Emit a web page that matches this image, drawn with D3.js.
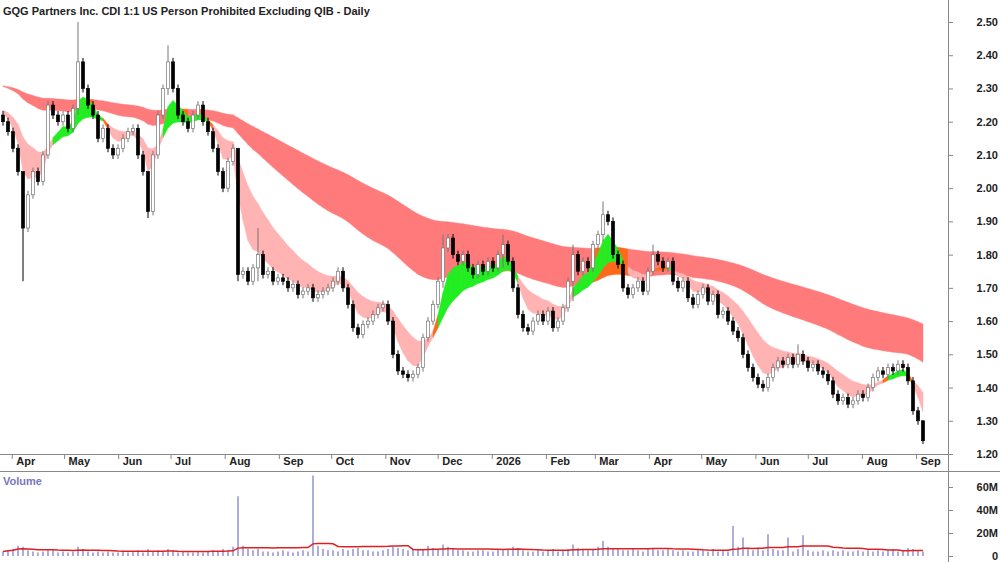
<!DOCTYPE html>
<html><head><meta charset="utf-8">
<script src="https://cdn.jsdelivr.net/npm/d3@7"></script>
<style>body{margin:0;background:#fff}svg{font-family:Arial,"Liberation Sans",sans-serif}</style>
</head><body>
<script>
// closes, roughly every 2nd trading day from late Mar 2025 to end Aug 2026
let closes = [2.20,2.17,2.12,2.05,1.88,1.98,2.05,2.02,2.10,2.25,2.22,2.20,2.22,2.18,2.24,2.38,2.30,2.25,2.22,2.15,
2.18,2.12,2.10,2.12,2.15,2.17,2.18,2.10,2.05,1.93,2.10,2.22,2.30,2.38,2.30,2.22,2.20,2.18,2.22,2.25,
2.20,2.17,2.12,2.05,2.00,2.08,2.12,1.74,1.75,1.72,1.76,1.80,1.74,1.75,1.72,1.73,1.72,1.70,1.71,1.68,
1.69,1.70,1.67,1.68,1.69,1.70,1.72,1.75,1.70,1.65,1.58,1.56,1.59,1.60,1.62,1.64,1.65,1.60,1.50,1.45,
1.44,1.43,1.44,1.46,1.55,1.60,1.65,1.72,1.82,1.85,1.80,1.78,1.80,1.76,1.74,1.77,1.75,1.78,1.76,1.80,
1.83,1.78,1.70,1.62,1.58,1.57,1.60,1.62,1.60,1.63,1.58,1.60,1.64,1.72,1.80,1.75,1.78,1.76,1.83,1.86,
1.92,1.90,1.80,1.77,1.70,1.68,1.70,1.72,1.69,1.75,1.80,1.78,1.76,1.78,1.72,1.70,1.72,1.67,1.65,1.68,
1.70,1.66,1.68,1.62,1.63,1.60,1.57,1.55,1.50,1.46,1.43,1.41,1.40,1.43,1.46,1.48,1.47,1.49,1.47,1.50,
1.48,1.46,1.47,1.45,1.44,1.42,1.38,1.36,1.37,1.35,1.36,1.38,1.37,1.40,1.43,1.45,1.44,1.46,1.45,1.47,
1.46,1.42,1.33,1.30,1.24]
let firstOpen = 2.22
// bars whose high/low stretch well beyond the body: [index, high, low]
let spikes = [[4,1.95,1.72],[15,2.50,2.22],[29,2.05,1.91],[33,2.43,2.28],[47,1.90,1.72],[51,1.88,1.72],
[88,1.86,1.70],[100,1.86,1.76],[114,1.83,1.66],[120,1.96,1.84],[130,1.83,1.74],[159,1.53,1.46],[184,1.30,1.23]]
let volumes = [4,5,6,9,8,5,4,3,4,6,5,3,4,3,4,8,6,4,3,4,
3,4,3,3,4,3,4,5,3,6,4,5,4,6,5,3,4,3,3,4,
3,4,5,4,6,5,8,52,9,6,5,6,4,4,3,4,5,4,3,4,
5,4,70,9,6,5,5,4,6,5,6,7,5,5,4,4,5,6,8,7,
6,5,6,5,6,9,7,6,10,8,6,5,5,4,4,5,5,4,4,6,
5,6,8,7,5,4,4,5,4,5,6,4,5,6,10,7,6,5,6,8,
13,8,7,6,5,5,6,5,4,6,7,5,5,6,5,4,5,4,4,5,
5,4,6,4,5,4,26,8,16,6,5,7,5,19,6,5,5,16,4,6,
18,5,4,4,5,4,5,4,5,4,4,5,4,5,4,5,4,5,6,4,
5,7,6,5,4]
let yTicks = [1.20,1.30,1.40,1.50,1.60,1.70,1.80,1.90,2.00,2.10,2.20,2.30,2.40,2.50]
let volTicks = [0,20,40,60]
let shortPeriods = [5,6,7,8,10,12,15]
let longPeriods = [50,60,70,80,90,105]
let shortSeed = 2.24, longSeed = 2.31
let firstDate = new Date(2025, 2, 27), lastDate = new Date(2026, 8, 5)

let width = 1000, height = 562
let svg = d3.select("body").append("svg").attr("width", width).attr("height", height)

let n = closes.length
let step = (lastDate - firstDate) / (n - 1)
let dates = closes.map((c, i) => new Date(+firstDate + i*step))

let xScale = d3.scaleTime().domain([firstDate, lastDate]).range([3, 923])
let yScale = d3.scaleLinear().domain([1.20, 2.50]).range([454, 22])
let vScale = d3.scaleLinear().domain([0, 60]).range([556, 487])

let bars = closes.map((c, i) => {
    let o = i == 0 ? firstOpen : closes[i-1]
    let hi = Math.max(o, c) + 0.012, lo = Math.min(o, c) - 0.012
    let s = spikes.find(p => p[0] == i)
    if (s) { hi = s[1]; lo = s[2] }
    return {date: dates[i], o, c, hi, lo, v: volumes[i]}
})

let ema = (seed) => (p) => {
    let a = 2/(p+1), out = [], e = seed
    closes.forEach((c) => { e = e + a*(c-e); out.push(e) })
    return out
}
let shortE = shortPeriods.map(ema(shortSeed)), longE = longPeriods.map(ema(longSeed))
let band = closes.map((c, i) => ({
    sTop: d3.max(shortE, s => s[i]), sBot: d3.min(shortE, s => s[i]),
    lTop: d3.max(longE, s => s[i]), lBot: d3.min(longE, s => s[i]),
    fast: shortE[0][i], slow: shortE[shortE.length-1][i]
}))

// ribbons, one segment per bar interval
for (let i = 0; i < n-1; i++) {
    let seg = [i, i+1]
    let b = band[i]
    let overlap = b.sTop > (b.lBot + b.lTop)/2 && b.sBot < b.lTop
    let lColor = overlap ? "#ff6a1a" : "#ff7b7b"
    let sColor = (b.fast - b.slow) > 0.01 ? "#22ee22" : (b.fast > b.slow ? "#ff6a1a" : "#ffb3b3")
    svg.append("path").datum(seg)
        .attr("d", d3.area().x(j => xScale(dates[j])).y0(j => yScale(band[j].lBot)).y1(j => yScale(band[j].lTop)))
        .attr("fill", lColor).attr("stroke", lColor).attr("stroke-width", 0.4)
    svg.append("path").datum(seg)
        .attr("d", d3.area().x(j => xScale(dates[j])).y0(j => yScale(band[j].sBot)).y1(j => yScale(band[j].sTop)))
        .attr("fill", sColor).attr("stroke", sColor).attr("stroke-width", 0.4)
}

// candles
let cw = 3
let g = svg.append("g")
g.selectAll("line.wick").data(bars).enter().append("line")
    .attr("x1", b => xScale(b.date)).attr("x2", b => xScale(b.date))
    .attr("y1", b => yScale(b.hi)).attr("y2", b => yScale(b.lo))
    .attr("stroke", b => b.c >= b.o ? "#777" : "#000").attr("stroke-width", 1)
g.selectAll("rect").data(bars).enter().append("rect")
    .attr("x", b => xScale(b.date) - cw/2)
    .attr("y", b => yScale(Math.max(b.o, b.c)))
    .attr("width", cw)
    .attr("height", b => Math.max(1, Math.abs(yScale(b.o) - yScale(b.c))))
    .attr("fill", b => b.c >= b.o ? "#fff" : "#000")
    .attr("stroke", b => b.c >= b.o ? "#777" : "#000").attr("stroke-width", 0.7)

// volume
svg.selectAll("line.vol").data(bars).enter().append("line")
    .attr("x1", b => xScale(b.date)).attr("x2", b => xScale(b.date))
    .attr("y1", vScale(0)).attr("y2", b => vScale(b.v))
    .attr("stroke", "#8080cc").attr("stroke-width", 1.3)
let avg = volumes.map((v, i) => d3.mean(volumes.slice(Math.max(0, i-19), i+1)))
svg.append("path").datum(avg)
    .attr("d", d3.line().x((v, i) => xScale(dates[i])).y(v => vScale(v)))
    .attr("fill", "none").attr("stroke", "#e02020").attr("stroke-width", 1.5)

// frame lines
svg.append("line").attr("x1", 0).attr("x2", 948).attr("y1", 454.5).attr("y2", 454.5).attr("stroke", "#888")
svg.append("line").attr("x1", 0).attr("x2", 1000).attr("y1", 471.5).attr("y2", 471.5).attr("stroke", "#888")
svg.append("line").attr("x1", 948.5).attr("x2", 948.5).attr("y1", 0).attr("y2", 562).attr("stroke", "#888")

// axes
let yAxis = d3.axisRight(yScale).tickValues(yTicks).tickFormat(d3.format(".2f")).tickSize(5)
let ya = svg.append("g").attr("transform", "translate(948,0)").call(yAxis)
let vAxis = d3.axisRight(vScale).tickValues(volTicks).tickFormat(v => v == 0 ? "0" : v + "M").tickSize(5)
let va = svg.append("g").attr("transform", "translate(948,0)").call(vAxis)
;[ya, va].forEach(a => {
    a.select(".domain").remove()
    a.selectAll("line").attr("stroke", "#888")
    a.selectAll("text").attr("x", 50).attr("text-anchor", "end").style("font-size", "11px")
        .style("font-weight", "bold").attr("fill", "#222")
})
let xAxis = d3.axisBottom(xScale).ticks(d3.timeMonth.every(1))
    .tickFormat(t => t.getMonth() == 0 ? d3.timeFormat("%Y")(t) : d3.timeFormat("%b")(t)).tickSize(5)
let xa = svg.append("g").attr("transform", "translate(0,454)").call(xAxis)
xa.select(".domain").remove()
xa.selectAll("line").attr("stroke", "#888")
xa.selectAll("text").attr("text-anchor", "start").attr("x", 4).attr("y", 3).attr("dy", "0.71em")
    .style("font-size", "11px").style("font-weight", "bold").attr("fill", "#222")

svg.append("text").attr("x", 3).attr("y", 15).text("GQG Partners Inc. CDI 1:1 US Person Prohibited Excluding QIB - Daily")
    .style("font-size", "11px").style("font-weight", "bold").attr("fill", "#222")
svg.append("text").attr("x", 3).attr("y", 485).text("Volume")
    .style("font-size", "11px").style("font-weight", "bold").attr("fill", "#7777bb")
</script>
</body></html>
